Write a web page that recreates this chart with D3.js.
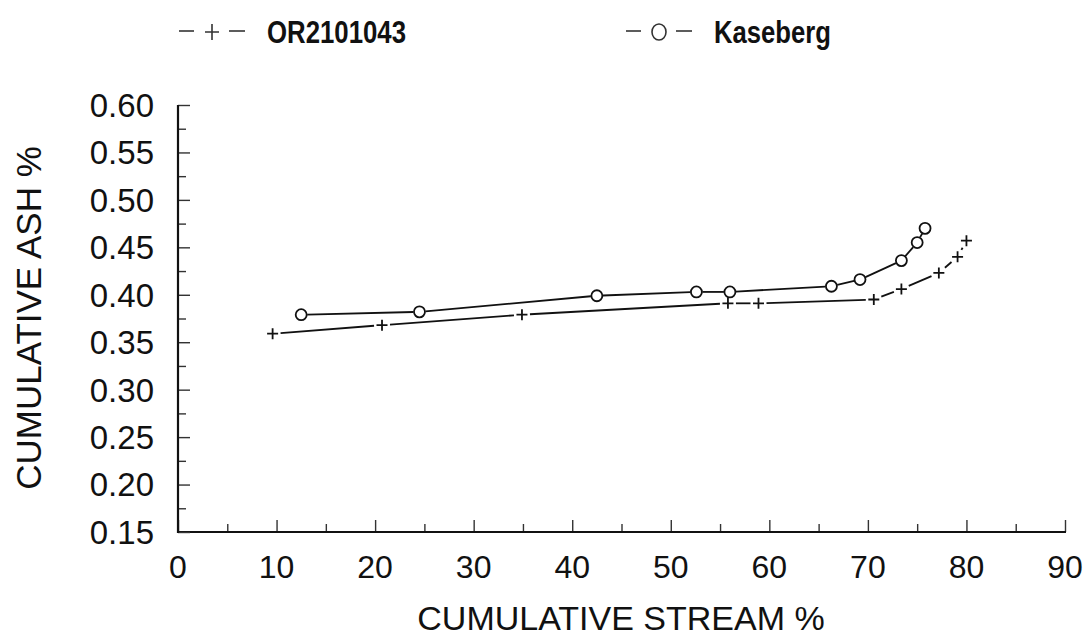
<!DOCTYPE html>
<html>
<head>
<meta charset="utf-8">
<script src="https://cdn.jsdelivr.net/npm/d3@7"></script>
<style>
  html, body { margin: 0; padding: 0; background: #fff; }
  svg { display: block; }
  text { font-family: "Liberation Sans", Arial, Helvetica, sans-serif; fill: #111; }
</style>
</head>
<body>
<svg id="chart" width="1089" height="639"></svg>
<script>
// ---- data ----
const seriesNames = ["OR2101043", "Kaseberg"];
const orStream = [9.6, 20.7, 34.9, 55.8, 58.9, 70.6, 73.4, 77.2, 79.1, 80.0];
const orAsh    = [0.359, 0.368, 0.379, 0.391, 0.391, 0.395, 0.406, 0.423, 0.440, 0.457];
const kaStream = [12.5, 24.5, 42.5, 52.6, 56.0, 66.3, 69.2, 73.4, 75.0, 75.8];
const kaAsh    = [0.379, 0.382, 0.399, 0.403, 0.403, 0.409, 0.416, 0.436, 0.455, 0.470];
const xTickValues = [0, 10, 20, 30, 40, 50, 60, 70, 80, 90];
const yTickValues = [0.15, 0.20, 0.25, 0.30, 0.35, 0.40, 0.45, 0.50, 0.55, 0.60];
const xTitle = "CUMULATIVE STREAM %";
const yTitle = "CUMULATIVE ASH %";

// ---- layout ----
const svg = d3.select("#chart");
const x = d3.scaleLinear().domain([0, 90]).range([178, 1065]);
const y = d3.scaleLinear().domain([0.15, 0.60]).range([532, 105]);
const ink = "#111";

// axes
const xMinor = d3.range(5, 90, 10);
const yMinor = d3.range(0.175, 0.60, 0.05);

const gx = svg.append("g").attr("transform", `translate(0,${y(0.15)})`);
gx.call(d3.axisTop(x).tickValues(xTickValues).tickSize(12).tickFormat(""))
  .call(g => g.select(".domain").remove());
gx.append("g").call(d3.axisTop(x).tickValues(xMinor).tickSize(8).tickFormat(""))
  .call(g => g.select(".domain").remove());
gx.selectAll("line").attr("stroke", "#333").attr("stroke-width", 1.4);
gx.append("line").attr("x1", x(0) - 1).attr("x2", x(90) + 1).attr("stroke", ink).attr("stroke-width", 2.2);

const gy = svg.append("g").attr("transform", `translate(${x(0)},0)`);
gy.call(d3.axisRight(y).tickValues(yTickValues).tickSize(12).tickFormat(""))
  .call(g => g.select(".domain").remove());
gy.append("g").call(d3.axisRight(y).tickValues(yMinor).tickSize(8).tickFormat(""))
  .call(g => g.select(".domain").remove());
gy.selectAll("line").attr("stroke", "#333").attr("stroke-width", 1.4);
gy.append("line").attr("y1", y(0.60)).attr("y2", y(0.15) + 1).attr("stroke", ink).attr("stroke-width", 2.2);

// tick labels
svg.append("g").selectAll("text").data(xTickValues).join("text")
  .attr("x", d => x(d)).attr("y", 578)
  .attr("text-anchor", "middle").attr("font-size", 32)
  .text(d => d);
svg.append("g").selectAll("text").data(yTickValues).join("text")
  .attr("x", 154).attr("y", d => y(d))
  .attr("dy", "0.36em")
  .attr("text-anchor", "end").attr("font-size", 33)
  .text(d => d3.format(".2f")(d));

// axis titles
svg.append("text").attr("x", 621).attr("y", 630)
  .attr("text-anchor", "middle").attr("font-size", 34).text(xTitle);
svg.append("text").attr("transform", "translate(41,318) rotate(-90)")
  .attr("text-anchor", "middle").attr("font-size", 35).text(yTitle);

// ---- series ----
const R = 5.5, PLUS = 5.5;
function drawSeries(xs, ys, kind) {
  const pts = xs.map((v, i) => [x(v), y(ys[i])]);
  const gap = kind === "circle" ? R + 0.5 : PLUS + 2.5;
  const g = svg.append("g");
  for (let i = 0; i < pts.length - 1; i++) {
    const [x1, y1] = pts[i], [x2, y2] = pts[i + 1];
    const dx = x2 - x1, dy = y2 - y1, L = Math.hypot(dx, dy);
    if (L <= 2 * gap) continue;
    const ux = dx / L, uy = dy / L;
    g.append("line")
      .attr("x1", x1 + ux * gap).attr("y1", y1 + uy * gap)
      .attr("x2", x2 - ux * gap).attr("y2", y2 - uy * gap)
      .attr("stroke", ink).attr("stroke-width", 1.8);
  }
  if (kind === "circle") {
    g.selectAll("circle").data(pts).join("circle")
      .attr("cx", d => d[0]).attr("cy", d => d[1]).attr("r", R)
      .attr("fill", "#fff").attr("stroke", ink).attr("stroke-width", 1.8);
  } else {
    g.selectAll("path.plus").data(pts).join("path").attr("class", "plus")
      .attr("d", d => `M${d[0] - PLUS},${d[1]}H${d[0] + PLUS}M${d[0]},${d[1] - PLUS}V${d[1] + PLUS}`)
      .attr("stroke", ink).attr("stroke-width", 1.8).attr("fill", "none");
  }
}
drawSeries(orStream, orAsh, "plus");
drawSeries(kaStream, kaAsh, "circle");

// ---- legend ----
const legendY = 32;
const legend = [
  { name: seriesNames[0], kind: "plus", x0: 179, tx: 267, tw: 139 },
  { name: seriesNames[1], kind: "circle", x0: 626, tx: 714, tw: 117 }
];
legend.forEach(l => {
  const g = svg.append("g");
  g.append("line").attr("x1", l.x0).attr("x2", l.x0 + 15).attr("y1", legendY - 1).attr("y2", legendY - 1)
    .attr("stroke", "#333").attr("stroke-width", 1.6);
  g.append("line").attr("x1", l.x0 + 50).attr("x2", l.x0 + 66).attr("y1", legendY - 1).attr("y2", legendY - 1)
    .attr("stroke", "#333").attr("stroke-width", 1.6);
  const cx = l.x0 + 33;
  if (l.kind === "plus") {
    g.append("path").attr("d", `M${cx - 7},${legendY}H${cx + 7}M${cx},${legendY - 8}V${legendY + 8}`)
      .attr("stroke", "#333").attr("stroke-width", 1.6).attr("fill", "none");
  } else {
    g.append("ellipse").attr("cx", cx).attr("cy", legendY).attr("rx", 7).attr("ry", 8)
      .attr("fill", "#fff").attr("stroke", "#333").attr("stroke-width", 1.6);
  }
  g.append("text").attr("x", l.tx).attr("y", legendY).attr("dy", "0.36em")
    .attr("font-size", 31).attr("font-weight", "bold")
    .attr("textLength", l.tw).attr("lengthAdjust", "spacingAndGlyphs")
    .text(l.name);
});
</script>
</body>
</html>
